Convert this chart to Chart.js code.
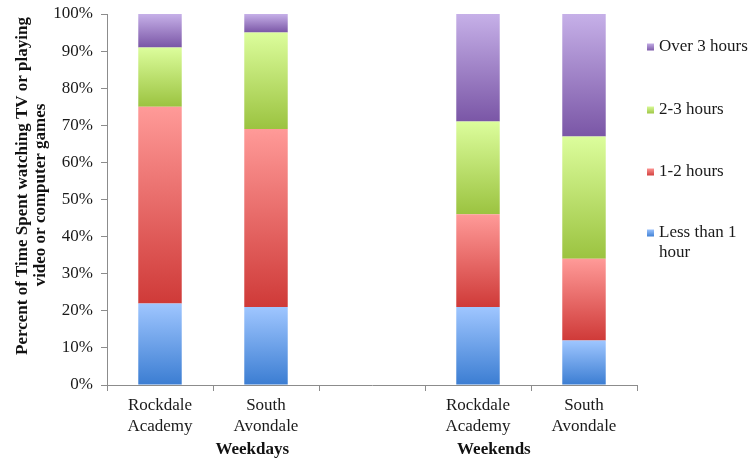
<!DOCTYPE html>
<html>
<head>
<meta charset="utf-8">
<script src="https://cdn.jsdelivr.net/npm/chart.js@4.4.1/dist/chart.umd.min.js"></script>
<style>
html,body{margin:0;padding:0;background:#fff;}
#wrap{width:752px;height:463px;}
</style>
</head>
<body>
<div id="wrap"><canvas id="c" width="752" height="463"></canvas></div>
<script>
// ---- data ----
const categories = [["Rockdale","Academy"],["South","Avondale"],"",["Rockdale","Academy"],["South","Avondale"]];
const groupLabels = ["Weekdays","Weekends"];
const seriesNames = ["Less than 1 hour","1-2 hours","2-3 hours","Over 3 hours"];
const lessThan1 = [22,21,null,21,12];
const oneToTwo = [53,48,null,25,22];
const twoToThree = [16,26,null,25,33];
const over3 = [9,5,null,29,33];
const yTicks = [0,10,20,30,40,50,60,70,80,90,100];

// ---- styling ----
const FONT = "'Liberation Serif','Times New Roman',serif";
const FS = 17;
const gradColors = [
  ["#3b7dd2","#9fc6ff"],
  ["#cf3a38","#ff9a98"],
  ["#9bc340","#dcfd9c"],
  ["#7a56a6","#c6b0e8"]
];
const legendColors = ["#5c98e4","#e56a68","#b7dd6c","#9b7ec6"];
const allSeries = [lessThan1, oneToTwo, twoToThree, over3];

function gradientFor(si){
  return function(ctx){
    const chart = ctx.chart;
    const area = chart.chartArea;
    if(!area || ctx.type !== 'data') return legendColors[si];
    const i = ctx.dataIndex;
    let base = 0;
    for(let k=0;k<si;k++) base += (allSeries[k][i]||0);
    const top = base + (allSeries[si][i]||0);
    const y = chart.scales.y;
    const y0 = y.getPixelForValue(base), y1 = y.getPixelForValue(top);
    if(!isFinite(y0)||!isFinite(y1)||y0===y1) return legendColors[si];
    const g = chart.ctx.createLinearGradient(0,y0,0,y1);
    g.addColorStop(0, gradColors[si][0]);
    g.addColorStop(1, gradColors[si][1]);
    return g;
  };
}

const customText = {
  id:'customText',
  afterDraw(chart){
    const c = chart.ctx;
    const x = chart.scales.x;
    c.save();
    // y-axis title
    c.fillStyle = '#111';
    c.font = "bold " + FS + "px " + FONT;
    c.textAlign = 'center';
    c.textBaseline = 'middle';
    c.save(); c.translate(23,186); c.rotate(-Math.PI/2);
    c.fillText("Percent of Time Spent watching TV or playing",0,0); c.restore();
    c.save(); c.translate(41,195); c.rotate(-Math.PI/2);
    c.fillText("video or computer games",0,0); c.restore();
    // group labels
    c.fillText(groupLabels[0], x.getPixelForValue(0.87), 450);
    c.fillText(groupLabels[1], x.getPixelForValue(3.15), 450);
    // legend (reverse order)
    c.font = FS + "px " + FONT;
    c.textAlign = 'left';
    const items = [
      {si:3, lines:["Over 3 hours"], y:47},
      {si:2, lines:["2-3 hours"], y:110},
      {si:1, lines:["1-2 hours"], y:172},
      {si:0, lines:["Less than 1","hour"], y:233}
    ];
    items.forEach(it=>{
      const g = c.createLinearGradient(0,it.y+4,0,it.y-4);
      g.addColorStop(0,gradColors[it.si][0]); g.addColorStop(1,gradColors[it.si][1]);
      c.fillStyle = g;
      c.fillRect(647,it.y-3.5,7,7);
      c.fillStyle = '#1a1a1a';
      it.lines.forEach((l,j)=>c.fillText(l,659,it.y+j*20));
    });
    c.restore();
  }
};

new Chart(document.getElementById('c'),{
  type:'bar',
  data:{
    labels:categories,
    datasets: allSeries.map((d,si)=>({
      label:seriesNames[si],
      data:d,
      backgroundColor:gradientFor(si),
      borderWidth:0,
      barPercentage:0.41,
      categoryPercentage:1.0
    }))
  },
  options:{
    responsive:false,
    animation:false,
    layout:{padding:{top:14,right:115,left:0,bottom:0}},
    plugins:{legend:{display:false},tooltip:{enabled:false},title:{display:false}},
    scales:{
      x:{
        stacked:true,
        offset:true,
        grid:{offset:true,drawOnChartArea:false,tickLength:6,color:'#8c8c8c'},
        border:{color:'#8c8c8c'},
        ticks:{font:{family:FONT,size:FS,lineHeight:1.18},color:'#1a1a1a',padding:5,maxRotation:0,autoSkip:false},
        afterFit(s){s.height=78; s.paddingLeft=0; s.paddingRight=0;}
      },
      y:{
        stacked:true,
        min:0,max:100,
        afterBuildTicks(s){s.ticks = yTicks.map(v=>({value:v}));},
        grid:{drawOnChartArea:false,tickLength:6,color:'#8c8c8c'},
        border:{color:'#8c8c8c'},
        ticks:{font:{family:FONT,size:FS},color:'#1a1a1a',padding:8,callback:v=>v+'%'},
        afterFit(s){s.width=107; s.paddingTop=0; s.paddingBottom=0;}
      }
    }
  },
  plugins:[customText]
});
</script>
</body>
</html>
